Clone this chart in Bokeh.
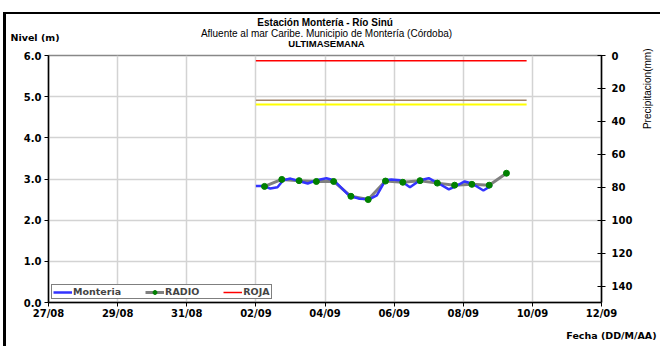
import datetime as dt
from bokeh.plotting import figure
from bokeh.models import (LinearAxis, Range1d, FixedTicker, DatetimeTickFormatter,
                          NumeralTickFormatter, Legend, LegendItem, Label)
from bokeh.embed import file_html
from bokeh.resources import INLINE

YEAR = 2015

# ---- data ----
date_ticks = ["27/08", "29/08", "31/08", "02/09", "04/09", "06/09", "08/09", "10/09", "12/09"]
level_ticks = [0.0, 1.0, 2.0, 3.0, 4.0, 5.0, 6.0]
precip_ticks = [0, 20, 40, 60, 80, 100, 120, 140]

monteria_time = ["02/09 00:00", "02/09 05:00", "02/09 10:00", "02/09 15:00", "02/09 19:00",
                 "03/09 00:00", "03/09 07:00", "03/09 12:00", "03/09 18:00", "04/09 01:00",
                 "04/09 06:00", "04/09 17:00", "05/09 00:00", "05/09 07:00", "05/09 12:00",
                 "05/09 18:00", "05/09 22:00", "06/09 04:00", "06/09 11:00", "06/09 18:00",
                 "07/09 00:00", "07/09 07:00", "07/09 14:00", "07/09 19:00", "08/09 01:00",
                 "08/09 06:00", "08/09 14:00", "08/09 20:00"]
monteria_level = [2.83, 2.83, 2.77, 2.80, 2.97,
                  3.01, 2.94, 2.89, 2.97, 3.02,
                  2.97, 2.59, 2.52, 2.51, 2.60,
                  2.97, 2.99, 2.97, 2.80, 2.97,
                  3.02, 2.89, 2.75, 2.83, 2.94,
                  2.89, 2.72, 2.85]

radio_time = ["02/09 06:00", "02/09 18:00", "03/09 06:00", "03/09 18:00", "04/09 06:00",
              "04/09 18:00", "05/09 06:00", "05/09 18:00", "06/09 06:00", "06/09 18:00",
              "07/09 06:00", "07/09 18:00", "08/09 06:00", "08/09 18:00", "09/09 06:00"]
radio_level = [2.82, 2.99, 2.96, 2.94, 2.94, 2.58, 2.50, 2.95, 2.92, 2.96,
               2.90, 2.85, 2.87, 2.85, 3.14]

umbral_time = ["02/09 00:00", "09/09 20:00"]
roja_level = [5.87, 5.87]
naranja_level = [4.91, 4.91]
amarilla_level = [4.81, 4.81]

x_start, x_end = "27/08 00:00", "12/09 00:00"


def parse(s):
    d, rest = s.split("/", 1)
    if " " in rest:
        m, hm = rest.split(" ")
        h, mi = hm.split(":")
    else:
        m, h, mi = rest, "0", "0"
    return dt.datetime(YEAR, int(m), int(d), int(h), int(mi))


def ms(t):
    return (t - dt.datetime(1970, 1, 1)).total_seconds() * 1000.0


FONT = "DejaVu Sans"
TFONT = "Liberation Sans"

p = figure(width=660, height=346, frame_width=553, frame_height=247, x_axis_type="datetime",
           x_range=Range1d(parse(x_start), parse(x_end)), y_range=Range1d(0, 6),
           output_backend="svg", toolbar_location=None,
           min_border_left=48, min_border_right=59, min_border_top=55, min_border_bottom=44)
p.styles = {"background": "linear-gradient(#000,#000) 3px 12px / 3px 340px no-repeat, "
                          "linear-gradient(#000,#000) 3px 12px / 660px 2px no-repeat, #fff"}
p.background_fill_color = "white"
p.border_fill_alpha = 0
p.outline_line_color = "#888888"
p.outline_line_width = 1.5

xt = FixedTicker(ticks=[ms(parse(t)) for t in date_ticks])
p.xaxis.ticker = xt
fmt = "%d/%m"
p.xaxis.formatter = DatetimeTickFormatter(days=fmt, months=fmt, hours=fmt, years=fmt,
                                          minutes=fmt, hourmin=fmt)
yt = FixedTicker(ticks=level_ticks)
p.yaxis.ticker = yt
p.yaxis.formatter = NumeralTickFormatter(format="0.0")
p.xgrid.ticker = xt
p.ygrid.ticker = yt
for g in (p.xgrid[0], p.ygrid[0]):
    g.grid_line_color = "#d3d3d3"
    g.grid_line_width = 1.5

p.extra_y_ranges = {"precip": Range1d(150, 0)}
raxis = LinearAxis(y_range_name="precip", ticker=FixedTicker(ticks=precip_ticks))
p.add_layout(raxis, "right")

for ax in (p.xaxis[0], p.yaxis[0], raxis):
    ax.axis_line_color = "black"
    ax.axis_line_width = 1.5
    ax.major_tick_line_color = "black"
    ax.major_tick_line_width = 1
    ax.minor_tick_line_color = None
    ax.major_label_text_font = FONT
    ax.major_label_text_font_style = "bold"
    ax.major_label_text_font_size = "10px"
    ax.major_label_text_color = "black"
p.xaxis.major_tick_in = 0
p.xaxis.major_tick_out = 4
p.xaxis.major_label_standoff = 1
p.yaxis.major_tick_in = 0
p.yaxis.major_tick_out = 4
p.yaxis.major_label_standoff = 3
raxis.major_tick_in = 4
raxis.major_tick_out = 4
raxis.major_label_standoff = 6

# thresholds
ut = [parse(t) for t in umbral_time]
r_roja = p.line(ut, roja_level, line_color="#ff0000", line_width=1.5)
p.line(ut, naranja_level, line_color="#a08064", line_width=1.5)
p.line(ut, amarilla_level, line_color="#ffff00", line_width=2)

# series
rt = [parse(t) for t in radio_time]
r_gray = p.line(rt, radio_level, line_color="#808080", line_width=3)
r_blue = p.line([parse(t) for t in monteria_time], monteria_level,
                line_color="#3333ff", line_width=2.5)
r_dots = p.scatter(rt, radio_level, size=6, fill_color="#008000", line_color="#008000")


def lab(text, x, y, side, size="9.5px", style="bold", align="left", font=TFONT, angle=0):
    p.add_layout(Label(x=x, y=y, x_units="screen", y_units="screen", text=text,
                       text_font=font, text_font_size=size, text_font_style=style,
                       text_align=align, text_baseline="middle", angle=angle,
                       text_color="black"), side)


# above: rows stacked outward from the frame
lab("ULTIMASEMANA", 278, 12, "above", align="center")
lab("Nivel (m)", -38, 6.7, "above", size="9.5px", font=FONT)
lab("Afluente al mar Caribe. Municipio de Montería (Córdoba)", 278, -0.3, "above",
    size="10px", style="normal", align="center")
lab("Estación Montería  - Río Sinú", 278, -0.3, "above", size="10px", align="center")

# right
lab("Precipitacion(mm)", 12, 254, "right", size="10px", style="normal", align="right",
    angle=1.5708)

# below: date label
lab("Fecha (DD/M/AA)", 608, -3, "below", size="9.5px", align="right", font=FONT)

# legend (inside the plot frame, bottom-left, so that it is always drawn)
legend = Legend(items=[LegendItem(label="Monteria", renderers=[r_blue]),
                       LegendItem(label="RADIO", renderers=[r_gray, r_dots]),
                       LegendItem(label="ROJA", renderers=[r_roja])],
                orientation="horizontal", location=(3, 3),
                border_line_color="black", border_line_width=1, background_fill_color="white",
                padding=1, margin=0, spacing=24, glyph_width=19, glyph_height=10,
                label_standoff=1, label_text_font=FONT, label_text_font_style="bold",
                label_text_font_size="9.5px", label_height=11)
p.add_layout(legend)

open("out.html", "w").write(file_html(p, INLINE))
